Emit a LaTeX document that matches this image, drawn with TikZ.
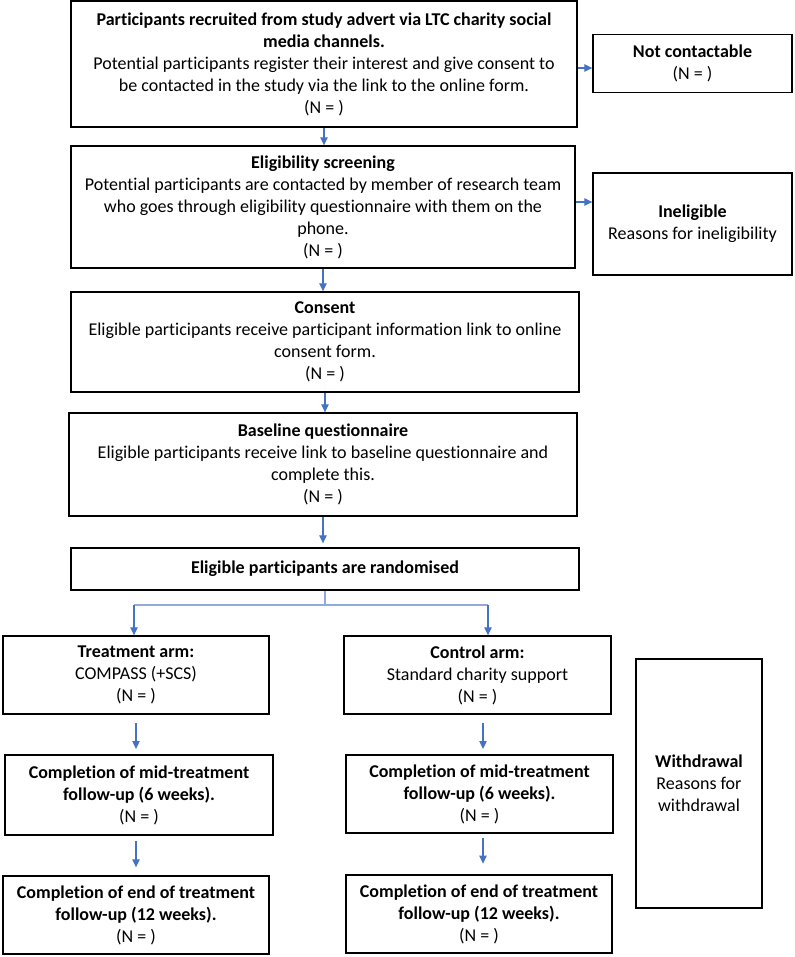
\documentclass[tikz,border=0pt]{standalone}
\usepackage{fontspec}
\setmainfont{Carlito}[Ligatures=NoCommon]
\usetikzlibrary{arrows.meta,calc}
\definecolor{arrblue}{HTML}{4472C4}
\definecolor{lightblue}{HTML}{8FAADC}
\begin{document}
\begin{tikzpicture}[x=0.75pt,y=-0.75pt,
  box/.style={draw=black, line width=1pt, align=center, inner sep=2pt,
    font=\fontsize{13.5pt}{16.5pt}\selectfont, text=black},
  sz/.style 2 args={minimum width={#1*0.75pt}, minimum height={#2*0.75pt}},
  arr/.style={draw=arrblue, line width=0.9pt, -{Triangle[length=6pt,width=5.5pt]}},
  tree/.style={draw=lightblue, line width=0.9pt}]
\useasboundingbox (0,0) rectangle (794,957);

\node[box, sz={506}{126}] (b1) at (324,64)
  {\textbf{Participants recruited from study advert via LTC charity social}\\
   \textbf{media channels.}\\
   Potential participants register their interest and give consent to\\
   be contacted in the study via the link to the online form.\\
   (N = )};
\node[box, sz={199}{58}] (nc) at (692.5,63.5)
  {\textbf{Not contactable}\\(N = )};
\node[box, sz={504}{122}] (b2) at (323,207)
  {\textbf{Eligibility screening}\\
   Potential participants are contacted by member of research team\\
   who goes through eligibility questionnaire with them on the\\
   phone.\\
   (N = )};
\node[box, sz={199}{102}] (ie) at (692.5,224)
  {\textbf{Ineligible}\\Reasons for ineligibility};
\node[box, sz={508}{100}] (b3) at (325,342)
  {\textbf{Consent}\\
   Eligible participants receive participant information link to online\\
   consent form.\\
   (N = )};
\node[box, sz={508}{103}] (b4) at (323,464.5)
  {\textbf{Baseline questionnaire}\\
   Eligible participants receive link to baseline questionnaire and\\
   complete this.\\
   (N = )};
\node[box, sz={508}{42}] (b5) at (325,569)
  {\textbf{Eligible participants are randomised}};

\node[box, sz={266}{78}] (tr) at (136,675)
  {\textbf{Treatment arm:}\\COMPASS (+SCS)\\(N = )};
\node[box, sz={267}{78}] (ct) at (477.5,675)
  {\textbf{Control arm:}\\Standard charity support\\(N = )};
\node[box, sz={268}{80}] (m1) at (139,795)
  {\textbf{Completion of mid-treatment}\\\textbf{follow-up (6 weeks).}\\(N = )};
\node[box, sz={267}{78}] (m2) at (479.5,794)
  {\textbf{Completion of mid-treatment}\\\textbf{follow-up (6 weeks).}\\(N = )};
\node[box, sz={266}{78}] (e1) at (136,915)
  {\textbf{Completion of end of treatment}\\\textbf{follow-up (12 weeks).}\\(N = )};
\node[box, sz={266}{78}] (e2) at (479,914)
  {\textbf{Completion of end of treatment}\\\textbf{follow-up (12 weeks).}\\(N = )};
\node[box, sz={126}{249}] (wd) at (699,783.5)
  {\textbf{Withdrawal}\\Reasons for\\withdrawal};

% side arrows
\coordinate (p1) at ($(b1.east)+(0,4)$);
\coordinate (p2) at ($(b2.east)+(0,-5)$);
\draw[arr] (p1) -- (p1 -| nc.west);
\draw[arr] (p2) -- (p2 -| ie.west);
% main column arrows
\draw[arr] (b1.south) -- (b1.south |- b2.north);
\draw[arr] (b2.south) -- (b2.south |- b3.north);
\draw[arr] (b3.south) -- (b3.south |- b4.north);
\draw[arr, shorten >=3pt] (b4.south) -- (b4.south |- b5.north);

% randomisation split
\coordinate (split) at (323,605);
\coordinate (jl) at (134,605);
\coordinate (jr) at (488,605);
\draw[tree] (b5.south) -- (b5.south |- split);
\draw[tree] (jl) -- (jr);
\draw[arr] (jl) -- (jl |- tr.north);
\draw[arr] (jr) -- (jr |- ct.north);

% arm arrows
\draw[arr, shorten <=6.5pt, shorten >=4pt] (tr.south) -- (tr.south |- m1.north);
\draw[arr, shorten <=4pt, shorten >=6pt] (m1.south -| tr.south) -- (tr.south |- e1.north);
\coordinate (cx) at ($(ct.south)+(5.5,0)$);
\draw[arr, shorten <=6.5pt, shorten >=4pt] (cx) -- (cx |- m2.north);
\draw[arr, shorten <=3pt, shorten >=8pt] (cx |- m2.south) -- (cx |- e2.north);
\end{tikzpicture}
\end{document}
